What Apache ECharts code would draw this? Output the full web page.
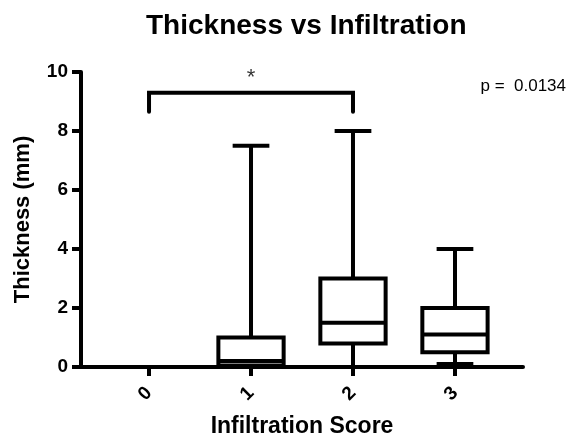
<!DOCTYPE html>
<html>
<head>
<meta charset="utf-8">
<script src="https://cdn.jsdelivr.net/npm/echarts@6/dist/echarts.min.js"></script>
<style>
  html, body { margin: 0; padding: 0; background: #fff; }
  #chart { width: 571px; height: 440px; }
</style>
</head>
<body>
<div id="chart"></div>
<script>
// infiltration score categories
const scores = [0, 1, 2, 3]
// box stats per score: min, q1, median, q3, max (mm)
const minVals = [0, 0, 0, 0.1]
const q1Vals = [0, 0.05, 0.8, 0.5]
const medianVals = [0, 0.2, 1.5, 1.1]
const q3Vals = [0, 1.0, 3.0, 2.0]
const maxVals = [0, 7.5, 8.0, 4.0]
// significance bracket between score 0 and 2
const bracketFrom = 0
const bracketTo = 2
const bracketTop = 9.3
const bracketFoot = 8.65
const pText = 'p =  0.0134'
const yTicks = [0, 2, 4, 6, 8, 10]

const font = 'Liberation Sans, Arial, Helvetica, sans-serif'

const boxData = scores.map((s, i) => [s, minVals[i], q1Vals[i], medianVals[i], q3Vals[i], maxVals[i]])

const renderBox = (params, api) => {
  const x = api.value(0)
  const unit = api.size([1, 0])[0]
  const boxHalf = unit * 0.32
  const capHalf = unit * 0.18
  const pMin = api.coord([x, api.value(1)])
  const pQ1 = api.coord([x, api.value(2)])
  const pMed = api.coord([x, api.value(3)])
  const pQ3 = api.coord([x, api.value(4)])
  const pMax = api.coord([x, api.value(5)])
  const cx = pMed[0]
  const style = { stroke: '#000', lineWidth: 4, fill: null }
  return {
    type: 'group',
    children: [
      { type: 'line', shape: { x1: cx, y1: pQ3[1], x2: cx, y2: pMax[1] }, style },
      { type: 'line', shape: { x1: cx, y1: pQ1[1], x2: cx, y2: pMin[1] }, style },
      { type: 'line', shape: { x1: cx - capHalf, y1: pMax[1], x2: cx + capHalf, y2: pMax[1] }, style },
      { type: 'line', shape: { x1: cx - capHalf, y1: pMin[1], x2: cx + capHalf, y2: pMin[1] }, style },
      {
        type: 'rect',
        shape: { x: cx - boxHalf, y: pQ3[1], width: boxHalf * 2, height: pQ1[1] - pQ3[1] },
        style: { stroke: '#000', lineWidth: 4, fill: '#fff' },
      },
      { type: 'line', shape: { x1: cx - boxHalf, y1: pMed[1], x2: cx + boxHalf, y2: pMed[1] }, style },
    ],
  }
}

const chart = echarts.init(document.getElementById('chart'))
chart.setOption({
  animation: false,
  backgroundColor: '#fff',
  textStyle: { fontFamily: font },
  title: [{
    text: 'Thickness vs Infiltration',
    left: 141,
    top: 7,
    textStyle: { fontFamily: font, fontSize: 28, fontWeight: 'bold', color: '#000' },
  }, {
    text: pText,
    right: 0,
    top: 73,
    textStyle: { fontFamily: font, fontSize: 17, fontWeight: 'normal', color: '#000' },
  }],
  grid: {
    left: 81,
    right: 48,
    top: 72,
    bottom: 73,
    outerBoundsMode: 'none',
  },
  xAxis: {
    type: 'value',
    min: -0.667,
    max: 3.667,
    name: 'Infiltration Score',
    nameLocation: 'middle',
    nameGap: 48,
    nameTextStyle: { fontFamily: font, fontSize: 23, fontWeight: 'bold', color: '#000' },
    splitLine: { show: false },
    axisLine: { onZero: false, lineStyle: { color: '#000', width: 4 } },
    axisTick: { customValues: scores, length: 9, lineStyle: { color: '#000', width: 4 } },
    axisLabel: {
      customValues: scores,
      rotate: 45,
      margin: 23,
      fontFamily: font,
      fontSize: 19,
      fontWeight: 'bold',
      color: '#000',
    },
  },
  yAxis: {
    type: 'value',
    min: 0,
    max: 10,
    interval: 2,
    name: 'Thickness (mm)',
    nameLocation: 'middle',
    nameGap: 47,
    nameTextStyle: { fontFamily: font, fontSize: 22, fontWeight: 'bold', color: '#000' },
    splitLine: { show: false },
    axisLine: { show: true, onZero: false, lineStyle: { color: '#000', width: 4 } },
    axisTick: { show: true, length: 9, lineStyle: { color: '#000', width: 4 } },
    axisLabel: {
      margin: 13,
      fontFamily: font,
      fontSize: 19,
      fontWeight: 'bold',
      color: '#000',
      formatter: (v) => (yTicks.includes(v) ? String(v) : ''),
    },
  },
  series: [{
    type: 'custom',
    renderItem: renderBox,
    data: boxData,
    clip: false,
    z: 3,
  }, {
    type: 'line',
    data: [
      [bracketFrom, bracketFoot],
      [bracketFrom, bracketTop],
      [bracketTo, bracketTop],
      [bracketTo, bracketFoot],
    ],
    symbol: 'none',
    lineStyle: { color: '#000', width: 4, cap: 'round', join: 'miter' },
    z: 3,
  }, {
    type: 'scatter',
    data: [[(bracketFrom + bracketTo) / 2, bracketTop]],
    symbolSize: 0,
    label: {
      show: true,
      position: 'top',
      distance: 4,
      formatter: '*',
      fontFamily: font,
      fontSize: 22,
      color: '#000',
    },
    z: 3,
  }],
})
</script>
</body>
</html>
